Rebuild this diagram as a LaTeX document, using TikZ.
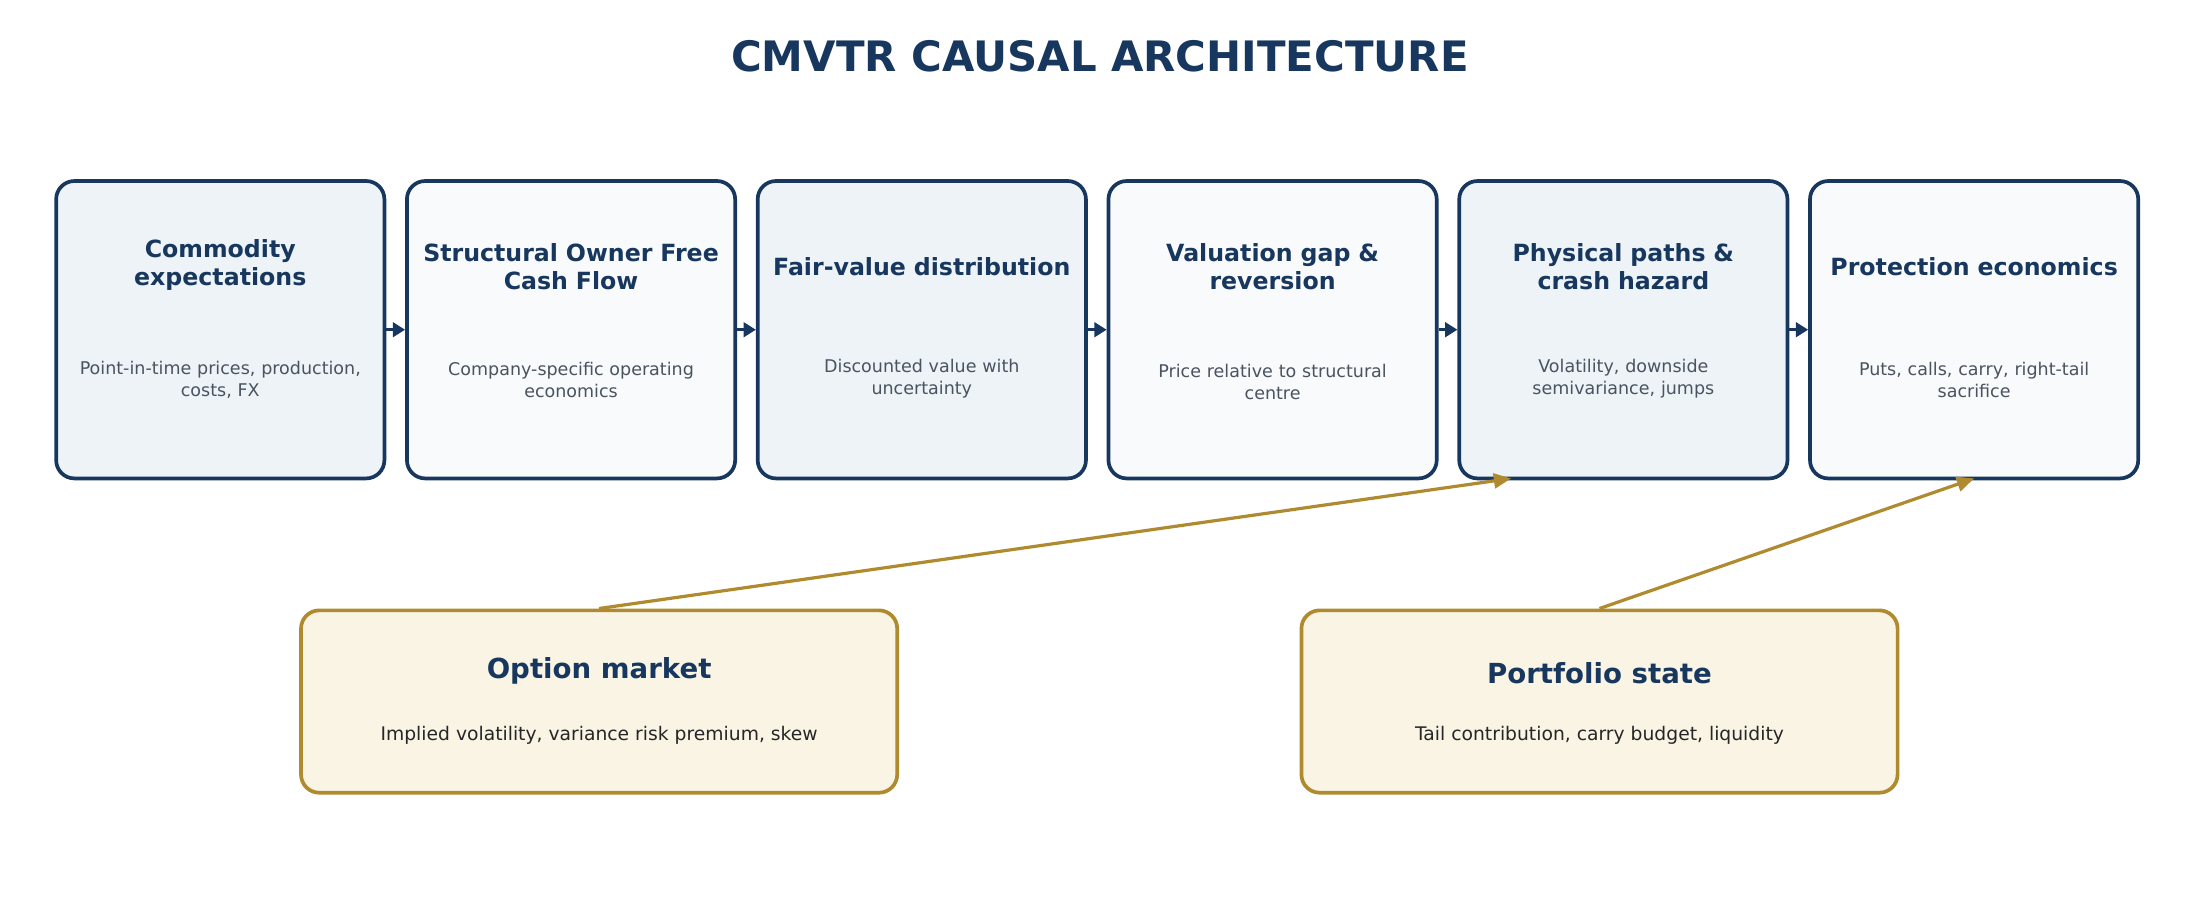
\documentclass[tikz,border=0pt]{standalone}
\usepackage{fontspec}
\setmainfont{DejaVu Sans}
\usetikzlibrary{arrows.meta}
\definecolor{navy}{HTML}{17375E}
\definecolor{fillA}{HTML}{EDF3F6}
\definecolor{fillB}{HTML}{F8FAFC}
\definecolor{gold}{HTML}{B08A2E}
\definecolor{cream}{HTML}{F9F4E4}
\definecolor{desc}{HTML}{4A5360}
\tikzset{
  stage/.style={draw=navy, line width=1.5pt, rounded corners=0.26cm, minimum width=4.68cm, minimum height=4.24cm},
  ext/.style={draw=gold, line width=1.5pt, rounded corners=0.26cm, minimum width=8.5cm, minimum height=2.6cm, fill=cream},
  ttl/.style={text=navy, font=\bfseries\fontsize{9.6}{11.5}\selectfont, align=center, text width=4.7cm},
  dsc/.style={text=desc, font=\fontsize{7.1}{8.9}\selectfont, align=center, text width=4.6cm},
  flow/.style={-{Triangle[length=5pt,width=6pt]}, draw=navy, line width=1pt},
  infl/.style={-{Triangle[length=7pt,width=6pt]}, draw=gold, line width=1.3pt}
}
\begin{document}
\begin{tikzpicture}[x=0.02cm,y=-0.02cm]
\useasboundingbox (0,0) rectangle (1568,642);
\node[text=navy, font=\bfseries\fontsize{17}{20}\selectfont] (title) at (784,40) {CMVTR CAUSAL ARCHITECTURE};
\node[stage, fill=fillA] (b1) at (157,235) {};
\node[stage, fill=fillB] (b2) at (407,235) {};
\node[stage, fill=fillA] (b3) at (657,235) {};
\node[stage, fill=fillB] (b4) at (907,235) {};
\node[stage, fill=fillA] (b5) at (1157,235) {};
\node[stage, fill=fillB] (b6) at (1407,235) {};
\node[ttl] (t1) at (157,189) {Commodity\\expectations};
\node[ttl] (t2) at (407,190) {Structural Owner Free\\Cash Flow};
\node[ttl] (t3) at (657,190) {Fair-value distribution};
\node[ttl] (t4) at (907,190) {Valuation gap \&\\reversion};
\node[ttl] (t5) at (1157,190) {Physical paths \&\\crash hazard};
\node[ttl] (t6) at (1407,190) {Protection economics};
\node[dsc] (d1) at (157,271) {Point-in-time prices, production,\\costs, FX};
\node[dsc] (d2) at (407,271) {Company-specific operating\\economics};
\node[dsc] (d3) at (657,270) {Discounted value with\\uncertainty};
\node[dsc] (d4) at (907,272) {Price relative to structural\\centre};
\node[dsc] (d5) at (1157,270) {Volatility, downside\\semivariance, jumps};
\node[dsc] (d6) at (1407,271) {Puts, calls, carry, right-tail\\sacrifice};
\foreach \a/\b in {b1/b2,b2/b3,b3/b4,b4/b5,b5/b6}
  \draw[flow] (\a.east) -- (\b.west);
\node[ext] (om) at (427,500) {};
\node[ext] (ps) at (1140,500) {};
\node[text=navy, font=\bfseries\fontsize{11.2}{13}\selectfont] (omt) at (427,478) {Option market};
\node[text=black!85, font=\fontsize{7.6}{9}\selectfont] (omd) at (427,524) {Implied volatility, variance risk premium, skew};
\node[text=navy, font=\bfseries\fontsize{11.2}{13}\selectfont] (pst) at (1140,480) {Portfolio state};
\node[text=black!85, font=\fontsize{7.6}{9}\selectfont] (psd) at (1140,524) {Tail contribution, carry budget, liquidity};
\coordinate (h5) at (1077,341);
\coordinate (h6) at (1407,341);
\draw[infl] (om.north) -- (h5);
\draw[infl] (ps.north) -- (h6);
\end{tikzpicture}
\end{document}
